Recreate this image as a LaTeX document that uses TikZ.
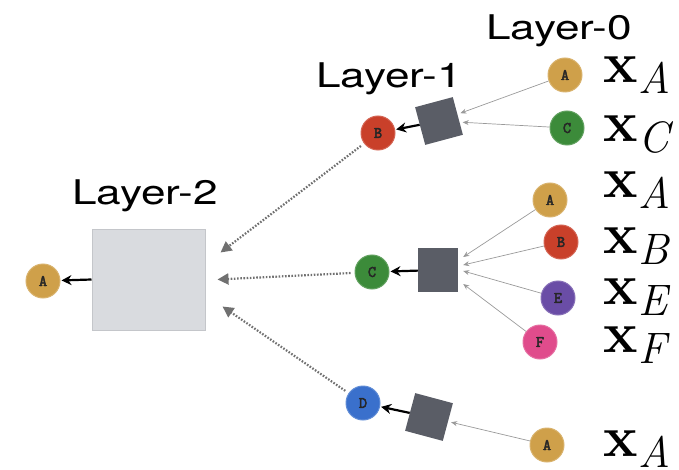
\documentclass[tikz,border=0pt]{standalone}
\usepackage{fontspec}
\setsansfont{TeX Gyre Heros}
\newfontfamily\lettf[FakeBold=3]{Latin Modern Mono}
\usetikzlibrary{arrows.meta}
\definecolor{cA}{HTML}{CFA04A}
\definecolor{cB}{HTML}{C9402A}
\definecolor{cC}{HTML}{3C8B3A}
\definecolor{cD}{HTML}{3A70CC}
\definecolor{cE}{HTML}{6A4DA6}
\definecolor{cF}{HTML}{E04C8C}
\definecolor{sqc}{HTML}{5A5D66}
\definecolor{bigc}{HTML}{D9DBDF}
\definecolor{bigb}{HTML}{C4C6CA}
\definecolor{dotc}{HTML}{707070}
\definecolor{inc}{HTML}{9A9A9A}
\newcommand{\xsub}[1]{\textbf{x}\kern1pt\raisebox{-11pt}{\fontsize{44}{44}\selectfont\itshape #1}}
\begin{document}
\begin{tikzpicture}[x=1pt,y=-1pt,
  vert/.style={circle, minimum size=34pt, inner sep=0pt, draw=#1!80!white, line width=1pt, fill=#1,
    font=\lettf\fontsize{16}{16}\selectfont, text=black!85},
  agg/.style={rectangle, fill=sqc, minimum width=39pt, minimum height=39pt, inner sep=0pt},
  lab/.style={font=\sffamily\fontsize{34}{34}\selectfont, inner sep=0pt, anchor=base, xscale=1.3},
  xl/.style={font=\fontsize{58}{58}\selectfont, anchor=base west, inner sep=0pt},
  inarr/.style={draw=inc, line width=0.7pt, -{Stealth[length=6pt,width=5pt]}, shorten >=3pt},
  outarr/.style={draw=black, line width=2.2pt, -{Stealth[length=10pt,width=10pt]}, shorten >=1pt},
  dotarr/.style={draw=dotc, line width=2.2pt, dash pattern=on 1.6pt off 1.6pt,
    -{Triangle[length=11pt,width=11pt]}, shorten >=0pt, shorten <=4pt}
]
\useasboundingbox (0,0) rectangle (679,470);

% labels
\node[lab] (l0) at (559,40) {Layer-0};
\node[lab] (l1) at (389,88) {Layer-1};
\node[lab] (l2) at (145,205) {Layer-2};

% layer 2
\node[rectangle, fill=bigc, draw=bigb, line width=1pt, minimum width=113pt, minimum height=101pt, inner sep=0pt] (big) at (148.5,279.5) {};
\node[vert=cA] (oA) at (43,281) {A};
\draw[outarr] (big.west) -- (oA);

% top group
\node[vert=cB] (B1) at (378,133) {B};
\node[agg, rotate=15] (s1) at (439,121) {};
\node[vert=cA] (tA) at (565,75) {A};
\node[vert=cC] (tC) at (567,128) {C};
\draw[outarr] (s1) -- (B1);
\draw[inarr] (tA) -- (s1);
\draw[inarr] (tC) -- (s1);
\node[xl] (xA1) at (603,83) {\xsub{A}};
\node[xl] (xC1) at (603,142) {\xsub{C}};

% middle group
\node[vert=cC] (C2) at (372,272) {C};
\node[agg, minimum width=40pt, minimum height=44pt] (s2) at (438,270) {};
\node[vert=cA] (mA) at (550,200) {A};
\node[vert=cB] (mB) at (561,242) {B};
\node[vert=cE] (mE) at (558,298) {E};
\node[vert=cF] (mF) at (540,342) {F};
\draw[outarr] (s2) -- (C2);
\draw[inarr, shorten >=0pt] (mA) -- ([xshift=5pt,yshift=13pt]s2.east);
\draw[inarr, shorten >=0pt] (mB) -- ([xshift=5pt,yshift=5pt]s2.east);
\draw[inarr, shorten >=0pt] (mE) -- ([xshift=5pt,yshift=-1pt]s2.east);
\draw[inarr, shorten >=0pt] (mF) -- ([xshift=5pt,yshift=-14pt]s2.east);
\node[xl] (xA2) at (603,198) {\xsub{A}};
\node[xl] (xB2) at (603,253) {\xsub{B}};
\node[xl] (xE2) at (603,304) {\xsub{E}};
\node[xl] (xF2) at (603,352) {\xsub{F}};

% bottom group
\node[vert=cD] (D3) at (363,403) {D};
\node[agg, rotate=-15] (s3) at (429,417) {};
\node[vert=cA] (bA) at (547,445) {A};
\draw[outarr] (s3) -- (D3);
\draw[inarr] (bA) -- (s3);
\node[xl] (xA3) at (603,456) {\xsub{A}};

% dotted connectors
\draw[dotarr] (B1) -- ([xshift=15pt,yshift=27pt]big.east);
\draw[dotarr] (C2) -- ([xshift=12pt]big.east);
\draw[dotarr] (D3) -- ([xshift=17pt,yshift=-27pt]big.east);
\end{tikzpicture}
\end{document}
